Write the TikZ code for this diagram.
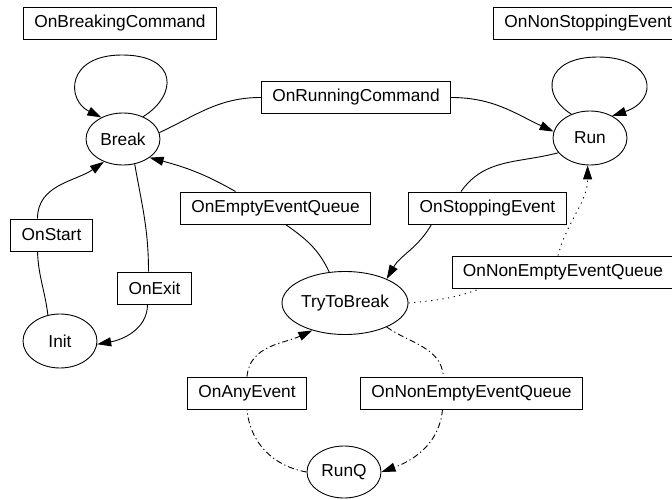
\documentclass[tikz,border=0pt]{standalone}
\usepackage{fontspec}
\setmainfont{Liberation Sans}
\usetikzlibrary{shapes.geometric,arrows.meta}
\begin{document}
\begin{tikzpicture}[x=1pt,y=1pt,
  font=\fontsize{17.3}{20}\selectfont,
  state/.style={draw,ellipse,line width=0.9pt,inner sep=0pt},
  lbl/.style={draw,rectangle,line width=0.9pt,inner xsep=11pt,inner ysep=0pt,minimum height=32pt},
  edge/.style={line width=0.9pt},
  arr/.style={edge,-{Triangle[length=14pt,width=9pt]}},
  dotline/.style={dash pattern=on 1.2pt off 4.5pt},
  dashdot/.style={dash pattern=on 6pt off 3pt on 1.2pt off 3pt}]
\useasboundingbox (0,0) rectangle (672,-500);
% states
\node[state,minimum width=74pt,minimum height=52pt] (brk) at (123,-139) {Break};
\node[state,minimum width=74pt,minimum height=54pt] (run) at (590,-138) {Run};
\node[state,minimum width=74pt,minimum height=54pt] (init) at (60,-341) {Init};
\node[state,minimum width=126pt,minimum height=63pt] (ttb) at (345,-303) {TryToBreak};
\node[state,minimum width=74pt,minimum height=52pt] (runq) at (344,-472) {RunQ};
% labels
\node[lbl] (lBC) at (120,-23) {OnBreakingCommand};
\node[lbl,anchor=west] (lNS) at (493,-23) {OnNonStoppingEvent};
\node[lbl] (lRC) at (356,-97.5) {OnRunningCommand};
\node[lbl] (lEQ) at (275.5,-208) {OnEmptyEventQueue};
\node[lbl] (lSE) at (487.5,-208) {OnStoppingEvent};
\node[lbl] (lNE1) at (563,-272) {OnNonEmptyEventQueue};
\node[lbl] (lSt) at (51.5,-235) {OnStart};
\node[lbl] (lEx) at (154.5,-288) {OnExit};
\node[lbl] (lAE) at (247,-393) {OnAnyEvent};
\node[lbl] (lNE2) at (471.5,-393) {OnNonEmptyEventQueue};
% self loops
\coordinate (bTop) at (122,-55);
\coordinate (rTop) at (598,-57);
\draw[arr] (brk.48) .. controls (178,-95) and (178,-55) .. (bTop)
  .. controls (66,-55) and (66,-100) .. (brk.135);
\draw[arr] (run.128) .. controls (540,-95) and (545,-57) .. (rTop)
  .. controls (655,-57) and (660,-100) .. (run.45);
% Break -> Run
\draw[edge] (brk.10) to[out=25,in=180] (lRC.west);
\draw[arr] (lRC.east) to[out=0,in=155] (run.170);
% Run -> TryToBreak
\draw[edge] (run.205) to[out=195,in=55] ([xshift=-26.5pt]lSE.north);
\draw[arr] ([xshift=-56pt]lSE.south) to[out=-120,in=60] (ttb.30);
% TryToBreak -> Break
\draw[edge] (ttb.117) to[out=115,in=-35] ([xshift=10pt]lEQ.south);
\draw[arr] ([xshift=-40pt]lEQ.north) to[out=150,in=-15] (brk.-35);
% TryToBreak -> Run (dotted)
\draw[edge,dotline] (ttb.0) to[out=5,in=-160] ([xshift=-82pt]lNE1.south);
\draw[arr,dotline] ([xshift=-5pt]lNE1.north) to[out=75,in=-90] (run.265);
% Init -> Break
\draw[edge] (init.115) to[out=97,in=-88] ([xshift=-14pt]lSt.south);
\draw[arr] ([xshift=-14pt]lSt.north) to[out=90,in=-145] (brk.-130);
% Break -> Init
\draw[edge] (brk.-65) to[out=-80,in=90] ([xshift=-6pt]lEx.north);
\draw[arr] ([xshift=-7pt]lEx.south) to[out=-90,in=10] (init.355);
% RunQ -> TryToBreak
\draw[edge,dashdot] (runq.180) to[out=170,in=-85] (lAE.south);
\draw[arr,dashdot] (lAE.north) to[out=85,in=-155] (ttb.220);
% TryToBreak -> RunQ
\draw[edge,dashdot] (ttb.330) to[out=-35,in=95] ([xshift=-28pt]lNE2.north);
\draw[arr,dashdot] ([xshift=-29pt]lNE2.south) to[out=-95,in=20] (runq.0);
\end{tikzpicture}
\end{document}
